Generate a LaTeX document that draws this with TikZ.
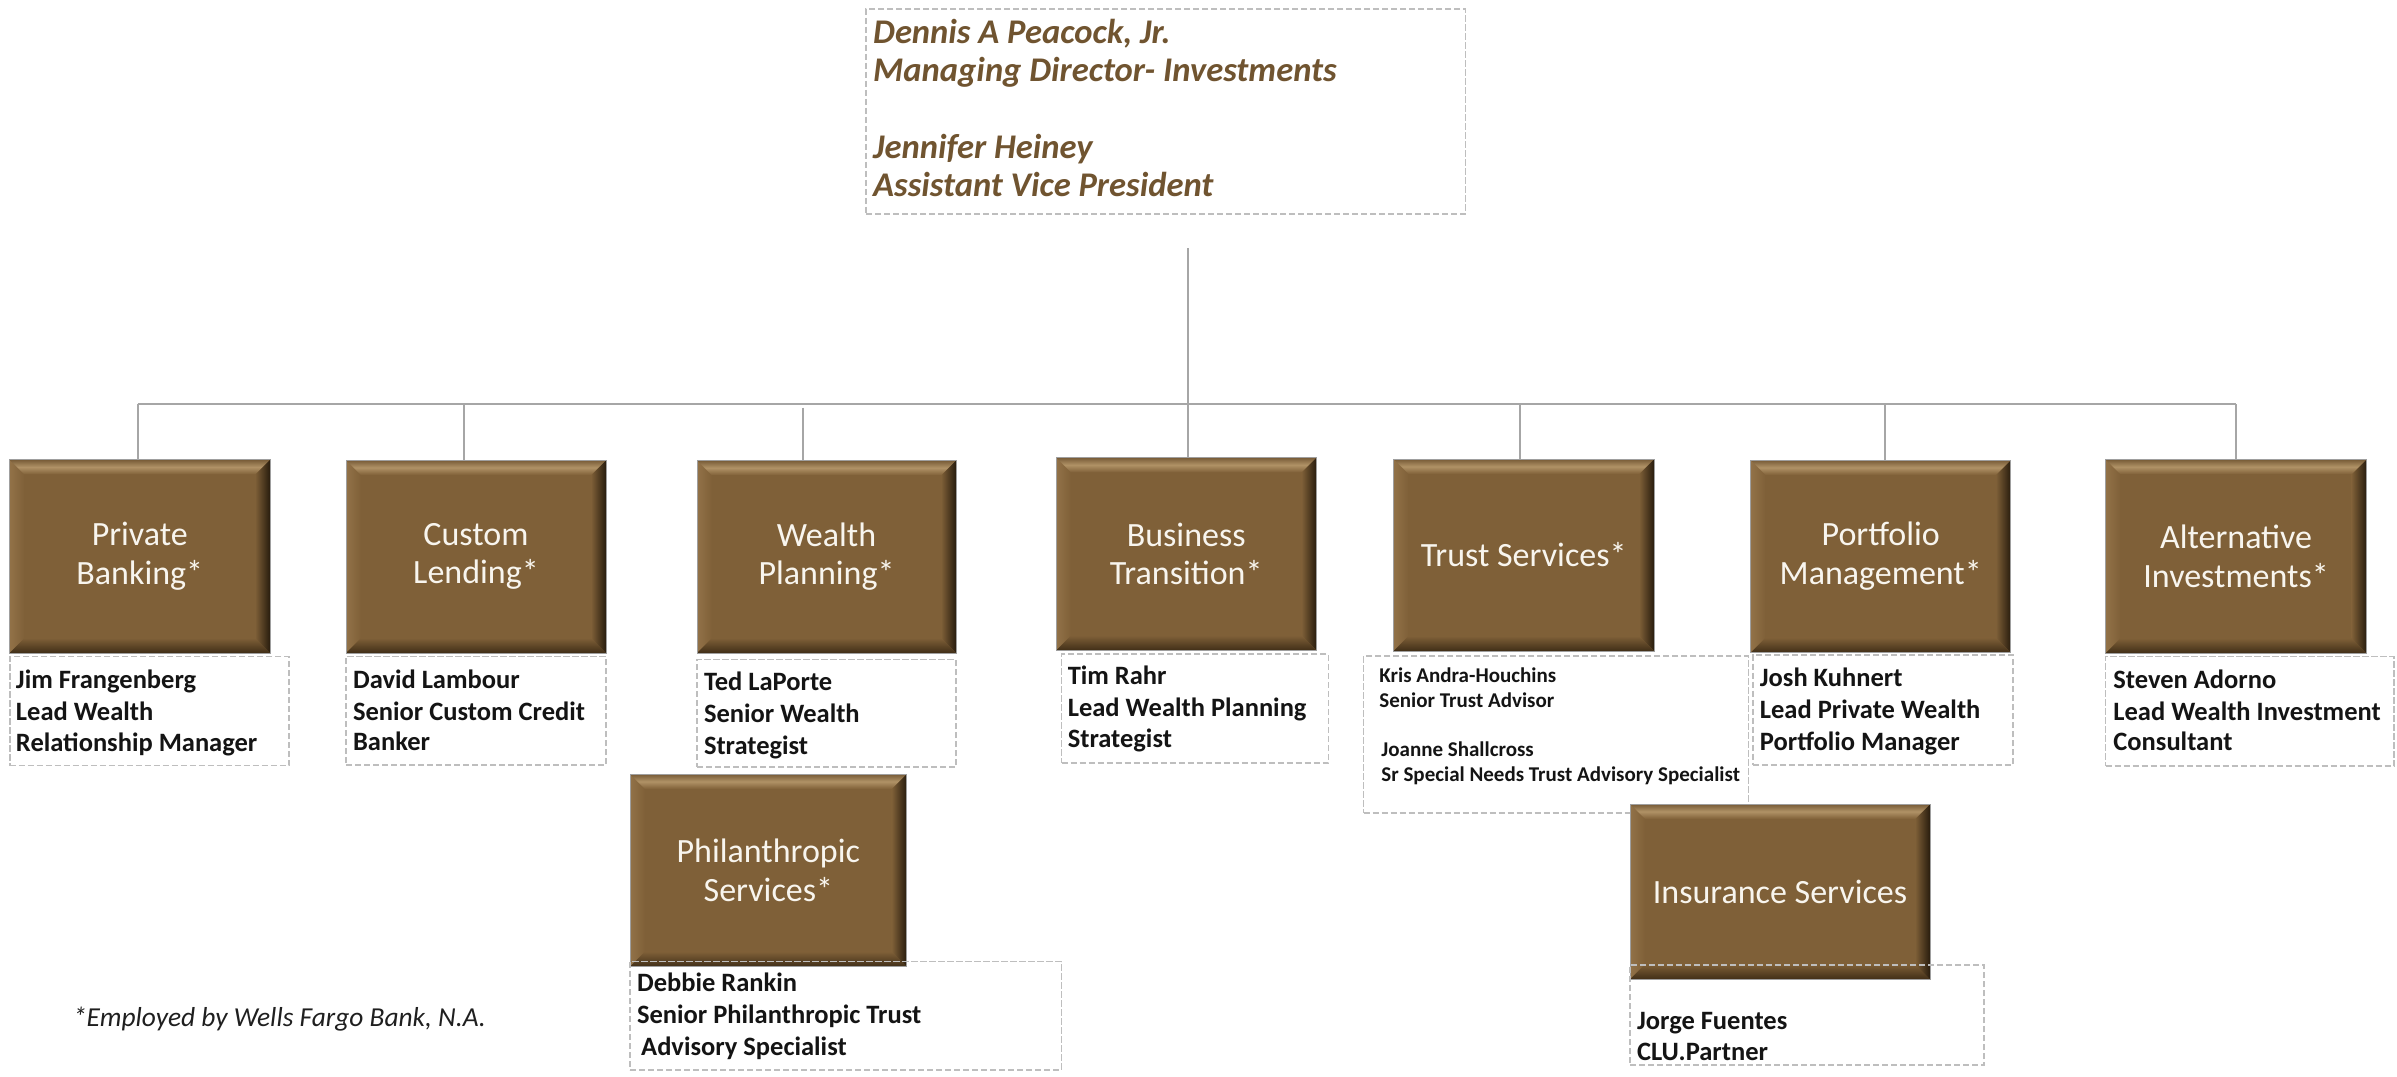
\documentclass[tikz,border=0pt]{standalone}
\usepackage{fontspec}
\setmainfont{Carlito}
\usetikzlibrary{calc}
\definecolor{boxfill}{RGB}{127,96,56}
\definecolor{bevtop}{RGB}{118,90,54}
\definecolor{bevhi}{RGB}{176,146,102}
\definecolor{bevleft}{RGB}{146,114,72}
\definecolor{bevright}{RGB}{40,28,13}
\definecolor{bevbot}{RGB}{64,46,23}
\definecolor{boxtext}{RGB}{248,245,238}
\definecolor{topbrown}{RGB}{112,84,48}
\definecolor{dashgray}{RGB}{190,190,190}
\definecolor{linegray}{RGB}{166,166,166}
\definecolor{nametext}{RGB}{20,20,20}
\newlength\bvw \setlength\bvw{7.5pt}
\tikzset{
  bevelbox/.style={draw=gray!75, line width=0.4pt, fill=boxfill, inner sep=0pt, outer sep=0pt,
    align=center, text=boxtext, font=\fontsize{17}{19.25}\selectfont,
    path picture={
      \coordinate (NW) at (path picture bounding box.north west);
      \coordinate (NE) at (path picture bounding box.north east);
      \coordinate (SW) at (path picture bounding box.south west);
      \coordinate (SE) at (path picture bounding box.south east);
      \shade[left color=bevleft, right color=boxfill] (NW) -- ($(NW)+(\bvw,-\bvw)$) -- ($(SW)+(\bvw,\bvw)$) -- (SW) -- cycle;
      \shade[left color=boxfill, right color=bevright] (NE) -- (SE) -- ($(SE)+(-\bvw,\bvw)$) -- ($(NE)+(-\bvw,-\bvw)$) -- cycle;
      \shade[top color=boxfill, bottom color=bevbot] (SW) -- ($(SW)+(\bvw,\bvw)$) -- ($(SE)+(-\bvw,\bvw)$) -- (SE) -- cycle;
      \shade[top color=bevtop, bottom color=boxfill, middle color=bevhi] (NW) -- (NE) -- ($(NE)+(-\bvw,-\bvw)$) -- ($(NW)+(\bvw,-\bvw)$) -- cycle;
    }},
  namebox/.style={draw=dashgray, line width=0.75pt, dash pattern=on 3.2pt off 1.3pt, inner sep=0pt, outer sep=0pt},
  conn/.style={draw=linegray, line width=1pt},
  nm/.style={anchor=base west, inner sep=0pt, text=nametext, font=\fontsize{13.25}{16}\selectfont\bfseries},
  nmsmall/.style={anchor=base west, inner sep=0pt, text=nametext, font=\fontsize{10.5}{12.8}\selectfont\bfseries},
  toptxt/.style={anchor=base west, inner sep=0pt, text=topbrown, font=\fontsize{17.3}{19.2}\selectfont\bfseries\itshape},
  foottxt/.style={anchor=base west, inner sep=0pt, text=black!88, font=\fontsize{13.7}{16}\selectfont\itshape},
}
\newcommand\brownbx[6]{\node[bevelbox, minimum width={(#4-#2)*0.5pt}, minimum height={(#5-#3)*0.5pt}] (#1) at ({(#2+#4)/2},{(#3+#5)/2}) {#6};}
\newcommand\namefr[5]{\node[namebox, minimum width={(#4-#2)*0.5pt}, minimum height={(#5-#3)*0.5pt}] (#1) at ({(#2+#4)/2},{(#3+#5)/2}) {};}
\begin{document}
\begin{tikzpicture}[x=0.5pt,y=-0.5pt]
\useasboundingbox (0,0) rectangle (2397,1076);
\fill[white] (0,0) rectangle (2397,1076);

% top box
\namefr{top}{866}{9}{1465.5}{214}
\node[toptxt] (top1) at (872.8,43.3) {Dennis A Peacock, Jr.};
\node[toptxt] (top2) at (872.8,81.7) {Managing Director- Investments};
\node[toptxt] (top3) at (872.8,158.3) {Jennifer Heiney};
\node[toptxt] (top4) at (872.8,196.7) {Assistant Vice President};

% brown boxes
\brownbx{pb}{9.5}{459.5}{270}{653}{Private\\Banking*}
\brownbx{cl}{346}{460}{606}{653}{Custom\\Lending*}
\brownbx{wp}{697}{460.3}{956}{653}{Wealth\\Planning*}
\brownbx{bt}{1056}{457.4}{1316.5}{650.5}{Business\\Transition*}
\brownbx{ts}{1393.5}{459}{1654}{651}{Trust Services*}
\brownbx{pm}{1750.6}{460}{2010.8}{652.7}{Portfolio\\Management*}
\brownbx{ai}{2105.5}{459.3}{2366.6}{653.3}{Alternative\\Investments*}
\brownbx{ps}{630}{774}{906.7}{966.7}{Philanthropic\\Services*}

% connectors
\coordinate (vtop) at (1188,248);
\coordinate (hl) at (137.5,404);
\coordinate (hr) at (2236.3,404);
\coordinate (d2) at (464.3,404);
\coordinate (d3) at (802.7,407.5);
\coordinate (d5) at (1520,404);
\coordinate (d6) at (1884.5,404);
\draw[conn] (vtop) -- (vtop |- bt.north);
\draw[conn] (hl) -- (hr);
\draw[conn] (hl) -- (hl |- pb.north);
\draw[conn] (d2) -- (d2 |- cl.north);
\draw[conn] (d3) -- (d3 |- wp.north);
\draw[conn] (d5) -- (d5 |- ts.north);
\draw[conn] (d6) -- (d6 |- pm.north);
\draw[conn] (hr) -- (hr |- ai.north);

% name boxes
\namefr{n1}{9.8}{656.7}{289}{765.7}
\node[nm] (n1a) at (15.6,688) {Jim Frangenberg};
\node[nm] (n1b) at (15.6,720) {Lead Wealth};
\node[nm] (n1c) at (15.6,751.7) {Relationship Manager};

\namefr{n2}{346}{656.5}{606}{765}
\node[nm] (n2a) at (352.7,688.3) {David Lambour};
\node[nm] (n2b) at (352.7,720) {Senior Custom Credit};
\node[nm] (n2c) at (352.7,750.7) {Banker};

\namefr{n3}{697}{659.5}{956}{767}
\node[nm] (n3a) at (703.6,690.5) {Ted LaPorte};
\node[nm] (n3b) at (703.6,722.7) {Senior Wealth};
\node[nm] (n3c) at (703.6,754) {Strategist};

\namefr{n4}{1061.6}{654}{1328.5}{763}
\node[nm] (n4a) at (1067.4,684) {Tim Rahr};
\node[nm] (n4b) at (1067.4,716) {Lead Wealth Planning};
\node[nm] (n4c) at (1067.4,747.6) {Strategist};

\namefr{n5}{1363.7}{656}{1748.5}{813}
\node[nmsmall] (n5a) at (1379,682) {Kris Andra-Houchins};
\node[nmsmall] (n5b) at (1379,707.5) {Senior Trust Advisor};
\node[nmsmall] (n5c) at (1381,756) {Joanne Shallcross};
\node[nmsmall] (n5d) at (1381,781.5) {Sr Special Needs Trust Advisory Specialist};

\namefr{n6}{1752.8}{655}{2013}{765}
\node[nm] (n6a) at (1759.5,686.7) {Josh Kuhnert};
\node[nm] (n6b) at (1759.5,718.3) {Lead Private Wealth};
\node[nm] (n6c) at (1759.5,750) {Portfolio Manager};

\namefr{n7}{2105.5}{656.7}{2394}{766}
\node[nm] (n7a) at (2113,688.3) {Steven Adorno};
\node[nm] (n7b) at (2113,720) {Lead Wealth Investment};
\node[nm] (n7c) at (2113,750.7) {Consultant};

\namefr{n8}{630}{961.7}{1061.7}{1070}
\node[nm] (n8a) at (636.7,991.7) {Debbie Rankin};
\node[nm] (n8b) at (636.7,1023.3) {Senior Philanthropic Trust};
\node[nm] (n8c) at (640.8,1055) {Advisory Specialist};

% insurance
\brownbx{is}{1630}{804}{1930}{979.3}{Insurance Services}
\namefr{n9}{1630}{965}{1984}{1065}
\node[nm] (n9a) at (1636.7,1029.3) {Jorge Fuentes};
\node[nm] (n9b) at (1636.7,1060) {CLU.Partner};

% footnote
\node[foottxt] (foot) at (72.7,1026) {*Employed by Wells Fargo Bank, N.A.};
\end{tikzpicture}
\end{document}
